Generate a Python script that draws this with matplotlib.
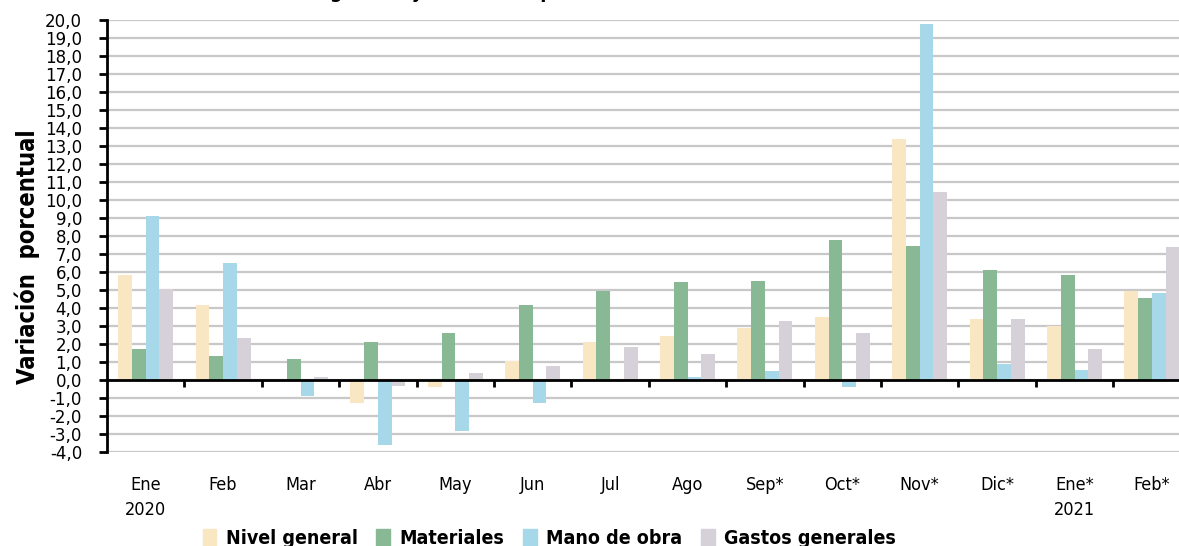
import numpy as np
import matplotlib.pyplot as plt
from matplotlib.patches import Patch

# --- Données ---
meses = ["Ene\n2020", "Feb", "Mar", "Abr", "May", "Jun", "Jul", "Ago",
         "Sep*", "Oct*", "Nov*", "Dic*", "Ene*\n2021", "Feb*"]
nivel_general = [5.83, 4.17, 0.0, -1.26, -0.37, 1.06, 2.11, 2.44,
                 2.89, 3.50, 13.39, 3.39, 3.02, 4.94]
materiales = [1.72, 1.33, 1.17, 2.11, 2.61, 4.17, 4.94, 5.44,
              5.50, 7.78, 7.44, 6.11, 5.83, 4.56]
mano_de_obra = [9.10, 6.50, -0.87, -3.59, -2.83, -1.28, 0.0, 0.17,
                0.50, -0.37, 19.78, 0.91, 0.56, 4.83]
gastos_generales = [5.04, 2.33, 0.17, -0.31, 0.39, 0.78, 1.83, 1.44,
                    3.28, 2.61, 10.44, 3.39, 1.72, 7.39]

series = [("Nivel general", nivel_general, "#f9e7c4"),
          ("Materiales", materiales, "#88b994"),
          ("Mano de obra", mano_de_obra, "#a6d8ea"),
          ("Gastos generales", gastos_generales, "#d6d0d8")]

# --- Figure ---
fig = plt.figure(figsize=(11.79, 5.46), dpi=100)
ax = fig.add_axes([107 / 1179, 94 / 546, 1 - 107 / 1179, 432 / 546])

x = np.arange(len(meses))
w = 0.178
for i, (nom, vals, col) in enumerate(series):
    ax.bar(x + (i - 1.5) * w, vals, w, color=col, label=nom, zorder=3)

ax.set_xlim(-0.5, 13.35)
ax.set_ylim(-4, 20)
ax.set_yticks(np.arange(-4, 21, 1))
ax.set_yticklabels([f"{v:.1f}".replace(".", ",") for v in np.arange(-4, 21, 1)],
                   fontsize=12, family="DejaVu Sans")
ax.grid(axis="y", color="#c8c8c8", linewidth=1.6, zorder=0)
ax.axhline(0, color="black", linewidth=2, zorder=4)

# petites graduations entre les mois
ax.vlines(np.arange(0.5, 13.5, 1), -0.38, 0, color="black", linewidth=2, zorder=4)

ax.set_xticks(x)
ax.set_xticklabels(meses, family="DejaVu Sans", stretch="condensed", fontsize=13,
                   linespacing=1.55)
ax.tick_params(axis="x", length=0, pad=17)
ax.tick_params(axis="y", length=6, width=2, color="black", pad=12, direction="out")

for s in ["top", "right", "bottom"]:
    ax.spines[s].set_visible(False)
ax.spines["left"].set_linewidth(2)

fig.text(0.023, 1 - 257 / 546, "Variación  porcentual", rotation=90,
         ha="center", va="center", fontsize=17, fontweight="bold",
         family="DejaVu Sans", stretch="condensed")

# titre coupé en haut de l'image
fig.text(0.29, 1.004, "Variación mensual del nivel general y de sus componentes",
         ha="center", va="baseline", fontsize=14, fontweight="bold",
         family="DejaVu Sans", stretch="condensed")

handles = [Patch(color=c, label=n) for n, _, c in series]
fig.legend(handles=handles, ncol=4, loc="center", bbox_to_anchor=(0.466, 0.014),
           frameon=False,
           prop={"family": "DejaVu Sans", "stretch": "condensed", "size": 14, "weight": "bold"},
           handlelength=0.7, handleheight=1.0, handletextpad=0.5, columnspacing=0.95)

fig.savefig("out.png", dpi=100)
